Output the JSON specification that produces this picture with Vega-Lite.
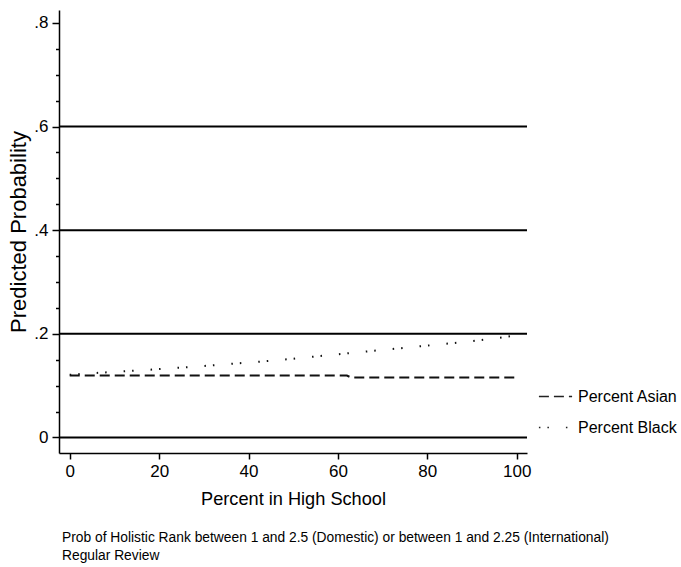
{
  "$schema": "https://vega.github.io/schema/vega-lite/v6.json",
  "width": 468,
  "height": 443,
  "autosize": {"type": "none"},
  "padding": {"left": 59, "top": 10, "right": 154, "bottom": 114},
  "background": "white",
  "config": {"view": {"stroke": null}},
  "title": {
    "text": ["Prob of Holistic Rank between 1 and 2.5 (Domestic) or between 1 and 2.25 (International)", "Regular Review"],
    "orient": "bottom",
    "anchor": "start",
    "frame": "group",
    "font": "Liberation Sans",
    "fontSize": 13.8,
    "fontWeight": "normal",
    "lineHeight": 18,
    "color": "black",
    "offset": 24,
    "dx": 3
  },
  "datasets": {
    "grid": [{"v": 0}, {"v": 0.2}, {"v": 0.4}, {"v": 0.6}],
    "lines": [
      {"x": 0, "v": 0.1195, "series": "Percent Asian"},
      {"x": 20, "v": 0.1195, "series": "Percent Asian"},
      {"x": 40, "v": 0.1195, "series": "Percent Asian"},
      {"x": 62, "v": 0.1195, "series": "Percent Asian"},
      {"x": 63, "v": 0.1155, "series": "Percent Asian"},
      {"x": 80, "v": 0.1155, "series": "Percent Asian"},
      {"x": 100, "v": 0.1155, "series": "Percent Asian"},
      {"x": 0, "v": 0.121, "series": "Percent Black"},
      {"x": 5, "v": 0.124, "series": "Percent Black"},
      {"x": 10.8, "v": 0.127, "series": "Percent Black"},
      {"x": 16.8, "v": 0.130, "series": "Percent Black"},
      {"x": 22.7, "v": 0.1335, "series": "Percent Black"},
      {"x": 28.7, "v": 0.137, "series": "Percent Black"},
      {"x": 34.5, "v": 0.141, "series": "Percent Black"},
      {"x": 40.5, "v": 0.145, "series": "Percent Black"},
      {"x": 46.5, "v": 0.149, "series": "Percent Black"},
      {"x": 52.3, "v": 0.154, "series": "Percent Black"},
      {"x": 58.2, "v": 0.159, "series": "Percent Black"},
      {"x": 64.1, "v": 0.164, "series": "Percent Black"},
      {"x": 70.1, "v": 0.169, "series": "Percent Black"},
      {"x": 76.1, "v": 0.174, "series": "Percent Black"},
      {"x": 82, "v": 0.179, "series": "Percent Black"},
      {"x": 88, "v": 0.184, "series": "Percent Black"},
      {"x": 94, "v": 0.190, "series": "Percent Black"},
      {"x": 100, "v": 0.197, "series": "Percent Black"}
    ]
  },
  "encoding": {
    "y": {
      "field": "v",
      "type": "quantitative",
      "scale": {"domain": [-0.03, 0.825], "nice": false, "zero": false},
      "axis": {
        "title": "Predicted Probability",
        "titleFont": "Liberation Sans",
        "titleFontSize": 22,
        "titleFontWeight": "normal",
        "titleColor": "black",
        "titlePadding": 3,
        "values": [0, 0.05, 0.1, 0.15, 0.2, 0.25, 0.3, 0.35, 0.4, 0.45, 0.5, 0.55, 0.6, 0.65, 0.7, 0.75, 0.8],
        "labelExpr": "round(datum.value*20)%4==0 ? (datum.value==0 ? '0' : replace(format(datum.value,'.1f'),'0.','.')) : ''",
        "labelFont": "Liberation Sans",
        "labelFontSize": 17,
        "labelColor": "black",
        "labelPadding": 4,
        "tickSize": {"condition": {"test": "round(datum.value*20)%4==0", "value": 7}, "value": 3.5},
        "tickColor": "black",
        "tickWidth": 1.5,
        "domainColor": "black",
        "domainWidth": 1.5,
        "grid": false
      }
    }
  },
  "layer": [
    {
      "data": {"name": "grid"},
      "mark": {"type": "rule", "color": "black", "strokeWidth": 2}
    },
    {
      "data": {"name": "lines"},
      "mark": {"type": "line", "color": "#111", "strokeWidth": 2, "strokeCap": "butt"},
      "encoding": {
        "x": {
          "field": "x",
          "type": "quantitative",
          "scale": {"domain": [-2.4, 102.3], "nice": false, "zero": false},
          "axis": {
            "title": "Percent in High School",
            "titleFont": "Liberation Sans",
            "titleFontSize": 18.2,
            "titleFontWeight": "normal",
            "titleColor": "black",
            "titlePadding": 11,
            "values": [0, 20, 40, 60, 80, 100],
            "labelFont": "Liberation Sans",
            "labelFontSize": 17,
            "labelColor": "black",
            "labelPadding": 4,
            "tickSize": 6,
            "tickColor": "black",
            "tickWidth": 1.5,
            "domainColor": "black",
            "domainWidth": 1.5,
            "grid": false
          }
        },
        "strokeDash": {
          "field": "series",
          "type": "nominal",
          "scale": {"domain": ["Percent Asian", "Percent Black"], "range": [[10, 5], [1.5, 7, 1.5, 17]]},
          "legend": {
            "title": null,
            "orient": "none",
            "legendX": 479,
            "legendY": 369,
            "symbolType": "stroke",
            "symbolSize": 1100,
            "symbolStrokeWidth": 1.5,
            "symbolStrokeColor": "#222",
            "labelFont": "Liberation Sans",
            "labelFontSize": 16,
            "labelColor": "black",
            "labelOffset": 5,
            "rowPadding": 5
          }
        }
      }
    }
  ]
}
